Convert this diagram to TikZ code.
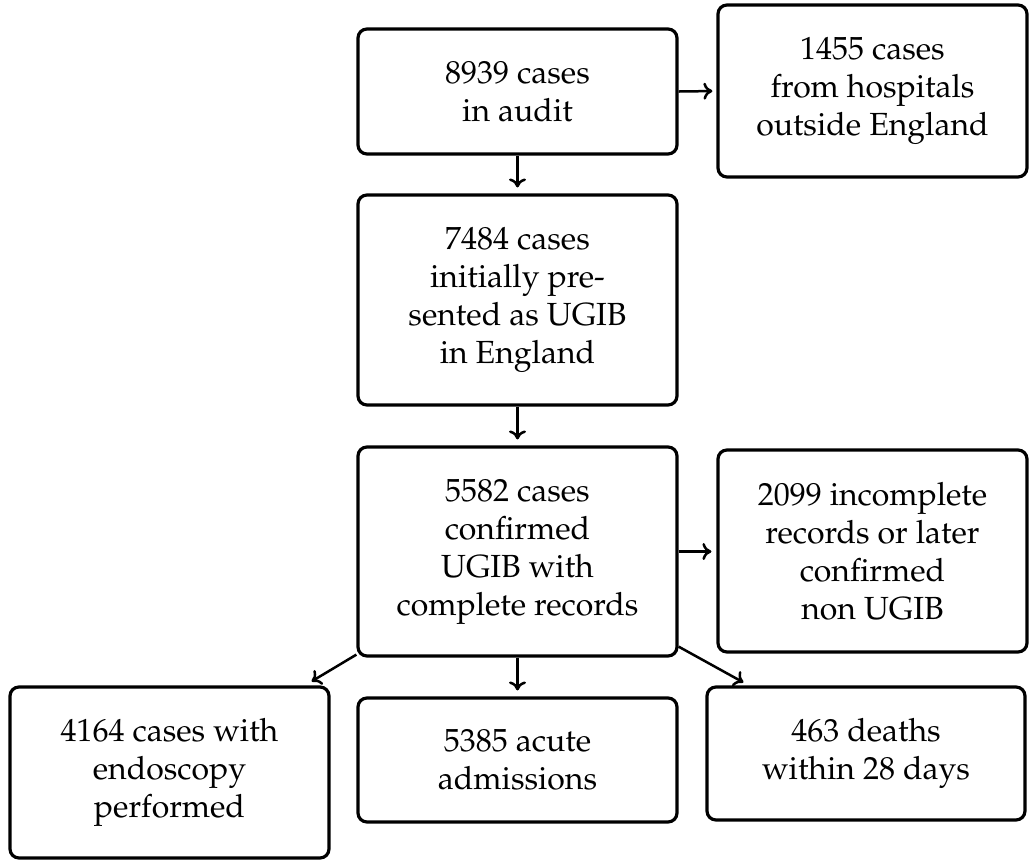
\documentclass[tikz,border=0pt]{standalone}
\usepackage[T1]{fontenc}
\usepackage{mathpazo}
\usetikzlibrary{arrows.meta}
\tikzset{
  box/.style={draw=black, line width=1.6pt, rounded corners=4.5pt, align=center,
    font=\fontsize{16}{19}\selectfont, inner sep=0pt},
  flow/.style={draw=black, line width=1.25pt, -{To[length=4.5pt,width=8.5pt]}},
}
\begin{document}
\begin{tikzpicture}[x=0.5pt, y=-0.5pt]
\useasboundingbox (0,0) rectangle (1030,859);
\node[box, minimum width=159.5pt, minimum height=62.5pt] (A) at (517.5,91.5) {8939 cases\\in audit};
\node[box, minimum width=154.5pt, minimum height=86pt] (B) at (872.5,91) {1455 cases\\from hospitals\\outside England};
\node[box, minimum width=159.5pt, minimum height=105pt] (C) at (517.5,300) {7484 cases\\initially pre-\\sented as UGIB\\in England};
\node[box, minimum width=159.5pt, minimum height=104.5pt] (D) at (517.5,551.5) {5582 cases\\confirmed\\UGIB with\\complete records};
\node[box, minimum width=154.5pt, minimum height=101pt] (E) at (872.5,551) {2099 incomplete\\records or later\\confirmed\\non UGIB};
\node[box, minimum width=159.5pt, minimum height=85.5pt] (F) at (169.5,772.5) {4164 cases with\\endoscopy\\performed};
\node[box, minimum width=159.5pt, minimum height=62pt] (G) at (517.5,760) {5385 acute\\admissions};
\node[box, minimum width=159pt, minimum height=66.5pt] (H) at (866,753.5) {463 deaths\\within 28 days};

\draw[flow, shorten >=2pt] (A.east) -- (B.west);
\draw[flow, shorten >=3pt] (A.south) -- (C.north);
\draw[flow, shorten >=3pt] (C.south) -- (D.north);
\draw[flow, shorten >=2.5pt] (D.east) -- (D.east -| E.west);
\draw[flow, shorten >=3pt] (D.south) -- (G.north);
\draw[flow] ([yshift=1.5pt]D.south west) -- ([xshift=-9.5pt,yshift=2pt]F.north east);
\draw[flow] ([yshift=5.5pt]D.south east) -- ([xshift=19pt,yshift=1.5pt]H.north west);
\end{tikzpicture}
\end{document}
